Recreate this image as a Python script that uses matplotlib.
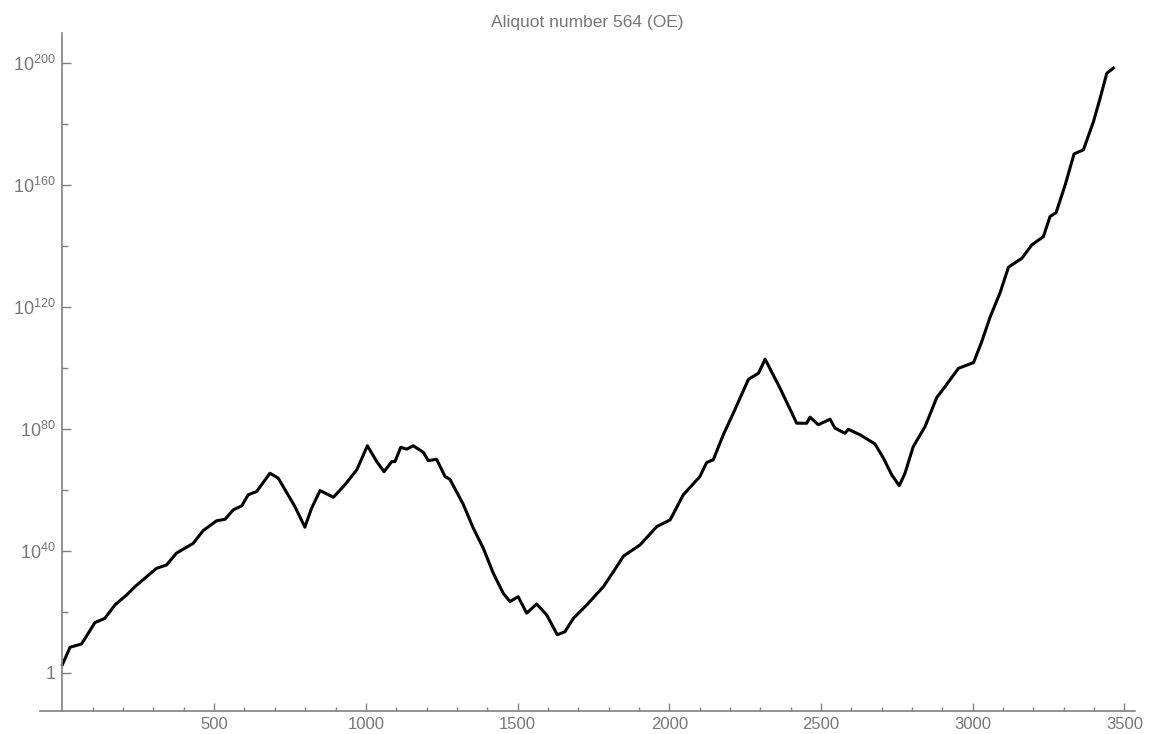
import matplotlib
matplotlib.use("Agg")
import matplotlib.pyplot as plt
import numpy as np

plt.rcParams['font.family'] = ['Liberation Sans', 'DejaVu Sans']

# index in the sequence and log10 of the term
steps = [0, 25, 63, 107, 140, 173, 212, 239, 310, 343, 376, 431, 464, 508, 536,
         563, 591, 612, 640, 684, 711, 766, 799, 821, 849, 893, 931, 970, 1005,
         1036, 1060, 1085, 1096, 1115, 1135, 1156, 1189, 1206, 1233, 1261, 1277,
         1321, 1354, 1387, 1420, 1453, 1475, 1502, 1530, 1563, 1596, 1631, 1656,
         1684, 1728, 1783, 1816, 1849, 1904, 1959, 2003, 2046, 2101, 2123, 2145,
         2178, 2211, 2261, 2294, 2316, 2365, 2420, 2453, 2464, 2491, 2530, 2546,
         2579, 2590, 2629, 2678, 2706, 2733, 2758, 2777, 2804, 2843, 2882, 2909,
         2953, 3003, 3030, 3058, 3090, 3118, 3162, 3195, 3233, 3255, 3275, 3305,
         3334, 3365, 3398, 3420, 3442, 3464]
log_terms = [2.75, 8.4, 9.5, 16.5, 17.9, 22.3, 25.6, 28.3, 34.3, 35.4, 39.3, 42.5,
             46.7, 49.9, 50.4, 53.5, 54.8, 58.4, 59.5, 65.5, 63.9, 54.6, 47.8, 54.0,
             59.8, 57.6, 61.7, 66.6, 74.5, 69.3, 66.0, 69.3, 69.3, 74.0, 73.4, 74.5,
             72.4, 69.6, 70.1, 64.4, 63.5, 55.3, 47.5, 40.9, 32.7, 26.1, 23.4, 25.0,
             19.6, 22.6, 19.0, 12.5, 13.5, 17.9, 22.3, 28.3, 33.2, 38.3, 42.0, 48.0,
             50.2, 58.4, 64.4, 69.0, 69.9, 78.1, 85.2, 96.3, 98.3, 102.9, 93.4, 81.9,
             81.9, 83.9, 81.4, 83.2, 80.3, 78.6, 79.9, 78.1, 75.1, 70.4, 65.0, 61.4,
             65.5, 74.2, 80.8, 90.4, 93.9, 99.9, 101.8, 108.7, 116.9, 124.6, 133.1,
             136.0, 140.4, 143.1, 149.7, 151.0, 160.1, 170.2, 171.6, 180.8, 188.5,
             196.7, 198.4]

x_ticks = [500, 1000, 1500, 2000, 2500, 3000, 3500]
y_exps = [0, 40, 80, 120, 160, 200]

gray = '#777777'

fig = plt.figure(figsize=(11.52, 7.34), dpi=100)
ax = fig.add_axes([40 / 1152, 23 / 734, 1095 / 1152, 678 / 734])

ax.plot(steps, [10.0 ** e for e in log_terms], color='black', lw=2.2)

ax.set_yscale('log')
ax.set_xlim(-74, 3535)
ax.set_ylim(10.0 ** -12.5, 10.0 ** 209.9)

ax.set_xticks(x_ticks)
ax.set_xticks(np.arange(100, 3500, 100), minor=True)
ax.set_yticks([10.0 ** e for e in y_exps])
ax.set_yticklabels(['1' if e == 0 else r'$\mathregular{10^{%d}}$' % e for e in y_exps])
ax.set_yticks([10.0 ** e for e in range(20, 200, 40)], minor=True)
ax.yaxis.set_minor_formatter(plt.NullFormatter())

for s in ['top', 'right']:
    ax.spines[s].set_visible(False)
ax.spines['left'].set_position(('data', 0))
for s in ['left', 'bottom']:
    ax.spines[s].set_color('#808080')
    ax.spines[s].set_linewidth(1.2)

ax.tick_params(axis='both', which='both', direction='in', colors='#808080',
               labelcolor=gray, width=1.0)
ax.tick_params(axis='x', which='major', length=5.5, pad=4, labelsize=12)
ax.tick_params(axis='x', which='minor', length=3)
ax.tick_params(axis='y', which='major', length=6.5, pad=5, labelsize=13)
ax.tick_params(axis='y', which='minor', length=4)

fig.text(587 / 1152, 1 - 22 / 734, 'Aliquot number 564 (OE)', ha='center',
         va='center', color=gray, fontsize=12.5)

fig.savefig('out.png', dpi=100)
